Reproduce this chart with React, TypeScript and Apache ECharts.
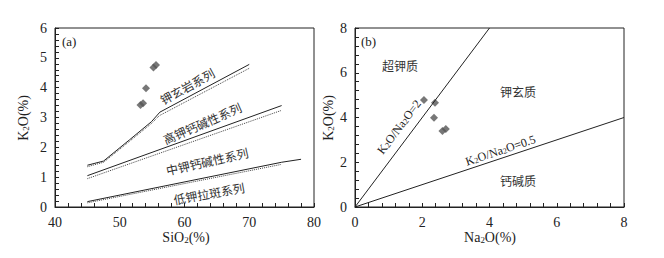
import React, { useEffect, useRef } from "react";
import * as echarts from "echarts";

// ---- data (a) ----
const sampleSiO2 = [53.2, 53.6, 54.05, 55.2, 55.6];
const sampleK2O = [3.42, 3.48, 3.98, 4.68, 4.76];
const shoSolid = [[45, 1.4], [47.5, 1.54], [51.5, 2.25], [54.9, 2.86], [56.2, 3.18], [70, 4.78]];
const shoDotted = [[45, 1.35], [47.5, 1.5], [51.5, 2.2], [54.9, 2.8], [56.1, 3.06], [70, 4.65]];
const hkSolid = [[45, 1.05], [75, 3.4]];
const hkDotted = [[45, 0.95], [75, 3.24]];
const lkSolid = [[45, 0.18], [75, 1.5], [78, 1.6]];
const lkDotted = [[45, 0.14], [75, 1.43]];
const seriesLabelsA = ["钾玄岩系列", "高钾钙碱性系列", "中钾钙碱性系列", "低钾拉斑系列"];

// ---- data (b) ----
const sampleNa2O = [2.6, 2.7, 2.35, 2.38, 2.05];
const sampleK2Ob = [3.4, 3.49, 3.99, 4.66, 4.78];
const ratio2Line = [[0, 0], [4, 8]];
const ratioHalfLine = [[0, 0], [8, 4]];
const fieldLabelsB = ["超钾质", "钾玄质", "钙碱质"];

const SERIF = "Liberation Serif";
const CJK = "Noto Sans CJK SC";
const INK = "#222";

function axisCommon(extra: any) {
  return {
    axisLine: { show: true, onZero: false, lineStyle: { color: INK, width: 1 } },
    axisTick: { show: true, inside: true, length: 4, lineStyle: { color: INK, width: 1 } },
    minorTick: { show: true, splitNumber: 5, length: 4, lineStyle: { color: INK, width: 1 } },
    splitLine: { show: false },
    axisLabel: { fontSize: 14, fontFamily: SERIF, color: INK, margin: 8 },
    ...extra,
  };
}

export default function App() {
  const ref = useRef<HTMLDivElement>(null);
  useEffect(() => {
    if (!ref.current) return;
    const chart = echarts.init(ref.current, null, { renderer: "svg" });
    const solid = { color: INK, width: 1, type: "solid" };
    const dotted = { color: "#444", width: 1, type: "dotted" };
    const lineSeries = (data: number[][], style: any, xi: number) => ({
      type: "line",
      data,
      xAxisIndex: xi,
      yAxisIndex: xi,
      showSymbol: false,
      symbol: "none",
      lineStyle: style,
      silent: true,
    });
    const deg = Math.PI / 180;
    const cjkText = (text: string, x: number, y: number, rot: number) => ({
      type: "text",
      x,
      y,
      rotation: rot * deg,
      style: {
        text,
        fill: "#333",
        fontSize: 12,
        fontFamily: CJK,
        align: "center",
        verticalAlign: "middle",
      },
    });
    const subText = (parts: string[], x: number, y: number, rot: number, size: number) => ({
      type: "text",
      x,
      y,
      rotation: rot * deg,
      style: {
        text: parts.join(""),
        align: "center",
        verticalAlign: "middle",
        fill: INK,
        fontFamily: SERIF,
        rich: {
          a: { fontSize: size, fontFamily: SERIF, fill: INK, lineHeight: size + 3, verticalAlign: "bottom" },
          s: { fontSize: Math.round(size * 0.65), fontFamily: SERIF, fill: INK, lineHeight: Math.round(size * 0.65), verticalAlign: "bottom" },
        },
      },
    });
    chart.setOption({
      animation: false,
      grid: [
        { left: 55, top: 28, width: 259, height: 179, show: true, borderColor: INK, borderWidth: 1 },
        { left: 355, top: 28, width: 269, height: 179, show: true, borderColor: INK, borderWidth: 1 },
      ],
      xAxis: [
        axisCommon({ gridIndex: 0, type: "value", min: 40, max: 80, interval: 10 }),
        axisCommon({ gridIndex: 1, type: "value", min: 0, max: 8, interval: 2 }),
      ],
      yAxis: [
        axisCommon({ gridIndex: 0, type: "value", min: 0, max: 6, interval: 1 }),
        axisCommon({ gridIndex: 1, type: "value", min: 0, max: 8, interval: 2 }),
      ],
      series: [
        lineSeries(shoSolid, solid, 0),
        lineSeries(shoDotted, dotted, 0),
        lineSeries(hkSolid, solid, 0),
        lineSeries(hkDotted, dotted, 0),
        lineSeries(lkSolid, solid, 0),
        lineSeries(lkDotted, dotted, 0),
        {
          type: "scatter",
          xAxisIndex: 0,
          yAxisIndex: 0,
          symbol: "diamond",
          symbolSize: 8,
          itemStyle: { color: "#555" },
          data: sampleSiO2.map((v, i) => [v, sampleK2O[i]]),
        },
        lineSeries(ratio2Line, solid, 1),
        lineSeries(ratioHalfLine, solid, 1),
        {
          type: "scatter",
          xAxisIndex: 1,
          yAxisIndex: 1,
          symbol: "diamond",
          symbolSize: 8,
          itemStyle: { color: "#555" },
          data: sampleNa2O.map((v, i) => [v, sampleK2Ob[i]]),
        },
      ],
      graphic: [
        { type: "text", x: 62, y: 41, style: { text: "(a)", fontSize: 13, fontFamily: SERIF, fill: INK, verticalAlign: "middle" } },
        { type: "text", x: 361, y: 41, style: { text: "(b)", fontSize: 13, fontFamily: SERIF, fill: INK, verticalAlign: "middle" } },
        subText(["{a|SiO}", "{s|2}", "{a|(%)}"], 186, 236, 0, 14),
        subText(["{a|Na}", "{s|2}", "{a|O(%)}"], 490, 236, 0, 14),
        subText(["{a|K}", "{s|2}", "{a|O(%)}"], 22, 118, 90, 14),
        subText(["{a|K}", "{s|2}", "{a|O(%)}"], 327, 118, 90, 14),
        cjkText(seriesLabelsA[0], 187, 86, 29),
        cjkText(seriesLabelsA[1], 202, 123, 23.5),
        cjkText(seriesLabelsA[2], 207, 161, 12.7),
        cjkText(seriesLabelsA[3], 209, 193, 10),
        cjkText(fieldLabelsB[0], 400, 65, 0),
        cjkText(fieldLabelsB[1], 518, 91, 0),
        cjkText(fieldLabelsB[2], 518, 180, 0),
        subText(["{a|K}", "{s|2}", "{a|O/Na}", "{s|2}", "{a|O=2}"], 398, 126, 53, 12),
        subText(["{a|K}", "{s|2}", "{a|O/Na}", "{s|2}", "{a|O=0.5}"], 500, 149, 18.5, 12),
      ],
    });
    return () => chart.dispose();
  }, []);
  return (
    <div
      ref={ref}
      style={{ position: "fixed", left: 0, top: 0, width: 664, height: 258, background: "#fff" }}
    />
  );
}
